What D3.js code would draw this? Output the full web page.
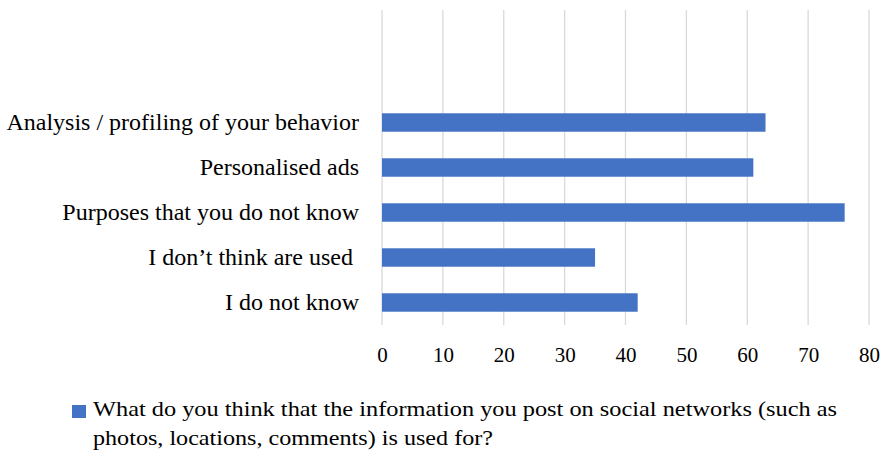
<!DOCTYPE html>
<html>
<head>
<meta charset="utf-8">
<script src="https://cdn.jsdelivr.net/npm/d3@7"></script>
<style>
  body { margin: 0; background: #fff; }
  text { font-family: "Liberation Serif", "DejaVu Serif", serif; fill: #000; }
</style>
</head>
<body>
<div id="plot"></div>
<script>
// data
const categories = ["Analysis / profiling of your behavior", "Personalised ads", "Purposes that you do not know", "I don\u2019t think are used ", "I do not know"];
const values = [63, 61, 76, 35, 42];
const xTicks = [0, 10, 20, 30, 40, 50, 60, 70, 80];
const legendLines = ["What do you think that the information you post on social networks (such as", "photos, locations, comments) is used for?"];

// two empty bands on top, like the original
const bands = ["", " "].concat(categories);

let W = 883, H = 452;
let margin = {top: 10, right: 14, bottom: 127, left: 382};
let width = W - margin.left - margin.right;
let height = H - margin.top - margin.bottom;

let svg = d3.select("#plot")
  .append("svg")
    .attr("width", W)
    .attr("height", H);

let g = svg.append("g")
  .attr("transform", "translate(" + margin.left + "," + margin.top + ")");

let x = d3.scaleLinear()
  .domain([0, 80])
  .range([0, width]);

let y = d3.scaleBand()
  .domain(bands)
  .range([0, height])
  .paddingInner(0.59)
  .paddingOuter(0.295);

// gridlines
g.selectAll(".grid")
  .data(xTicks)
  .enter()
  .append("line")
    .attr("x1", d => x(d))
    .attr("x2", d => x(d))
    .attr("y1", 0)
    .attr("y2", height)
    .attr("stroke", "#d9d9d9")
    .attr("stroke-width", 1.3);

// bars
g.selectAll(".bar")
  .data(values)
  .enter()
  .append("rect")
    .attr("x", x(0))
    .attr("y", (d, i) => y(categories[i]))
    .attr("width", d => x(d) - x(0))
    .attr("height", y.bandwidth())
    .attr("fill", "#4472C4");

// x axis labels
let xAxis = g.append("g")
  .attr("transform", "translate(0," + height + ")")
  .call(d3.axisBottom(x).tickValues(xTicks).tickSize(0).tickPadding(22));
xAxis.select(".domain").remove();
xAxis.selectAll("text")
  .style("font-family", "Liberation Serif, serif")
  .style("font-size", "21px")
  .attr("fill", "#000");

// category labels
let yAxis = g.append("g")
  .call(d3.axisLeft(y).tickValues(categories).tickSize(0).tickPadding(23));
yAxis.select(".domain").remove();
yAxis.selectAll("text")
  .style("font-family", "Liberation Serif, serif")
  .style("font-size", "24px")
  .style("white-space", "pre")
  .attr("xml:space", "preserve")
  .attr("fill", "#000");

// legend
let legend = svg.append("g");
legend.append("rect")
  .attr("x", 72)
  .attr("y", 405)
  .attr("width", 14)
  .attr("height", 13)
  .attr("fill", "#4472C4");
legend.selectAll(".lg")
  .data(legendLines)
  .enter()
  .append("text")
    .attr("x", 93)
    .attr("y", (d, i) => 416 + i * 29)
    .style("font-size", "21px")
    .attr("textLength", (d, i) => i == 0 ? 744 : 400)
    .attr("lengthAdjust", "spacingAndGlyphs")
    .text(d => d);
</script>
</body>
</html>
